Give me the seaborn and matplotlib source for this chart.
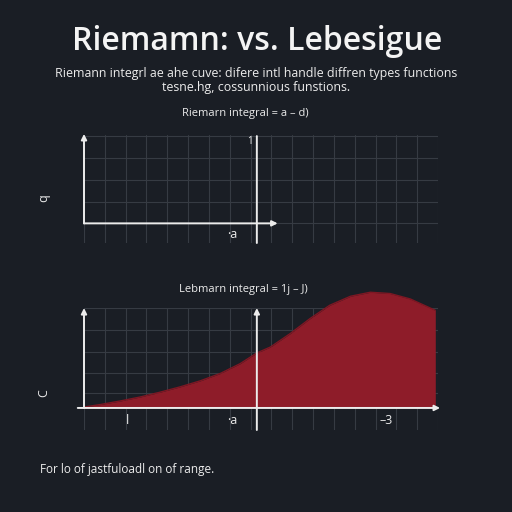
import numpy as np
import pandas as pd
import seaborn as sns
import matplotlib.pyplot as plt

# %% data

# Lebesgue panel curve
lst_curve_x = [0.05, 0.77, 1.73, 2.69, 3.65, 4.6, 5.58, 6.54, 7.5, 8.3,
               8.95, 9.9, 10.86, 11.8, 12.8, 13.75, 14.7, 15.67, 16.87]
lst_curve_y = [0.05, 0.16, 0.33, 0.52, 0.75, 1.0, 1.29, 1.64, 2.11, 2.62,
               2.9, 3.54, 4.26, 4.89, 5.32, 5.51, 5.45, 5.19, 4.65]

# tick labels of both panels
lst_top_tick_pos = [7.1]
lst_top_tick_lbl = ['·a']
lst_bot_tick_pos = [2.07, 7.1, 14.5]
lst_bot_tick_lbl = ['l', '·a', '–3']

# texts
str_title = 'Riemamn: vs. Lebesigue'
str_sub = ('Riemann integrl ae ahe cuve: difere intl handle diffren types functions\n'
           'tesne.hg, cossunnious funstions.')
str_top_title = 'Riemarn integral = a – d)'
str_bot_title = 'Lebmarn integral = 1j – J)'
str_foot = 'For lo of jastfuloadl on of range.'

# %% style
sns.set_theme(style='dark')
plt.rcParams['font.family'] = ['Open Sans', 'DejaVu Sans']
col_bg = '#1a1e25'
col_fg = '#ececec'
col_grid = '#363b43'
col_red = '#8e1c29'

fig = plt.figure(figsize=(5.12, 5.12), dpi=100, facecolor=col_bg)


def px_rect(left, top, right, bottom):
    return [left / 512, 1 - bottom / 512, (right - left) / 512,
            (bottom - top) / 512]


def style_ax(ax, ylim, yticks):
    ax.set_facecolor(col_bg)
    ax.set_xlim(0, 17)
    ax.set_ylim(*ylim)
    ax.set_xticks(np.arange(18), minor=True)
    ax.set_yticks(yticks, minor=True)
    ax.set_xticks([])
    ax.set_yticks([])
    ax.grid(False)
    ax.grid(which='minor', color=col_grid, linewidth=0.8)
    ax.tick_params(which='both', length=0)
    for sp in ax.spines.values():
        sp.set_visible(False)


def arrow(ax, x0, y0, x1, y1, head=True):
    ax.annotate('', xy=(x1, y1), xytext=(x0, y0), annotation_clip=False,
                arrowprops=dict(arrowstyle='-|>' if head else '-',
                                color=col_fg, lw=1.4, shrinkA=0, shrinkB=0,
                                mutation_scale=8))


def tick_text(ax, pos, lbl, y):
    for x, s in zip(pos, lbl):
        ax.text(x, y, s, color=col_fg, fontsize=9, ha='center', va='center')


# %% top panel (Riemann)
ax1 = fig.add_axes(px_rect(84, 135, 438, 243))
style_ax(ax1, (-0.9, 4.05), [0, 1, 2, 3, 4])
arrow(ax1, 0, 0, 0, 4.1)
arrow(ax1, 0, 0, 9.3, 0)
arrow(ax1, 8.3, -0.9, 8.3, 4.0, head=False)
tick_text(ax1, lst_top_tick_pos, lst_top_tick_lbl, -0.5)
ax1.text(7.98, 3.75, '1', color=col_fg, fontsize=7, ha='center', va='center')
ax1.text(-0.113, 0.42, 'q', color=col_fg, fontsize=9, rotation=90,
         transform=ax1.transAxes, ha='center', va='center')
ax1.text(0.455, 1.2, str_top_title, color=col_fg, fontsize=8,
         transform=ax1.transAxes, ha='center', va='center')

# %% bottom panel (Lebesgue)
ax2 = fig.add_axes(px_rect(84, 308, 438, 430))
style_ax(ax2, (-1.05, 4.76), [0.71, 1.67, 2.67, 3.7, 4.76])
df_curve = pd.DataFrame({'x': lst_curve_x, 'y': lst_curve_y})
ax2.fill_between(df_curve['x'], 0, df_curve['y'], color=col_red,
                 linewidth=0, clip_on=False, zorder=2)
sns.lineplot(data=df_curve, x='x', y='y', ax=ax2, color='#7e1723',
             linewidth=1.0, clip_on=False, zorder=3)
ax2.set_xlabel('')
ax2.set_ylabel('')
arrow(ax2, -0.3, 0, 17.1, 0)
arrow(ax2, 0, 0, 0, 4.76)
arrow(ax2, 8.3, -1.05, 8.3, 4.76)
tick_text(ax2, lst_bot_tick_pos, lst_bot_tick_lbl, -0.6)
ax2.text(-0.113, 0.3, 'C', color=col_fg, fontsize=9, rotation=90,
         transform=ax2.transAxes, ha='center', va='center')
ax2.text(0.45, 1.15, str_bot_title, color=col_fg, fontsize=8,
         transform=ax2.transAxes, ha='center', va='center')

# %% figure texts
fig.text(0.503, 1 - 42 / 512, str_title, color='#f4f4f4', fontsize=23,
         fontweight='semibold', ha='center', va='center')
fig.text(0.5, 1 - 80 / 512, str_sub, color=col_fg, fontsize=8.9,
         ha='center', va='center', linespacing=1.1)
fig.text(40 / 512, 1 - 470 / 512, str_foot, color=col_fg, fontsize=8.5,
         ha='left', va='center')

fig.savefig('out.png', dpi=100, facecolor=col_bg)
